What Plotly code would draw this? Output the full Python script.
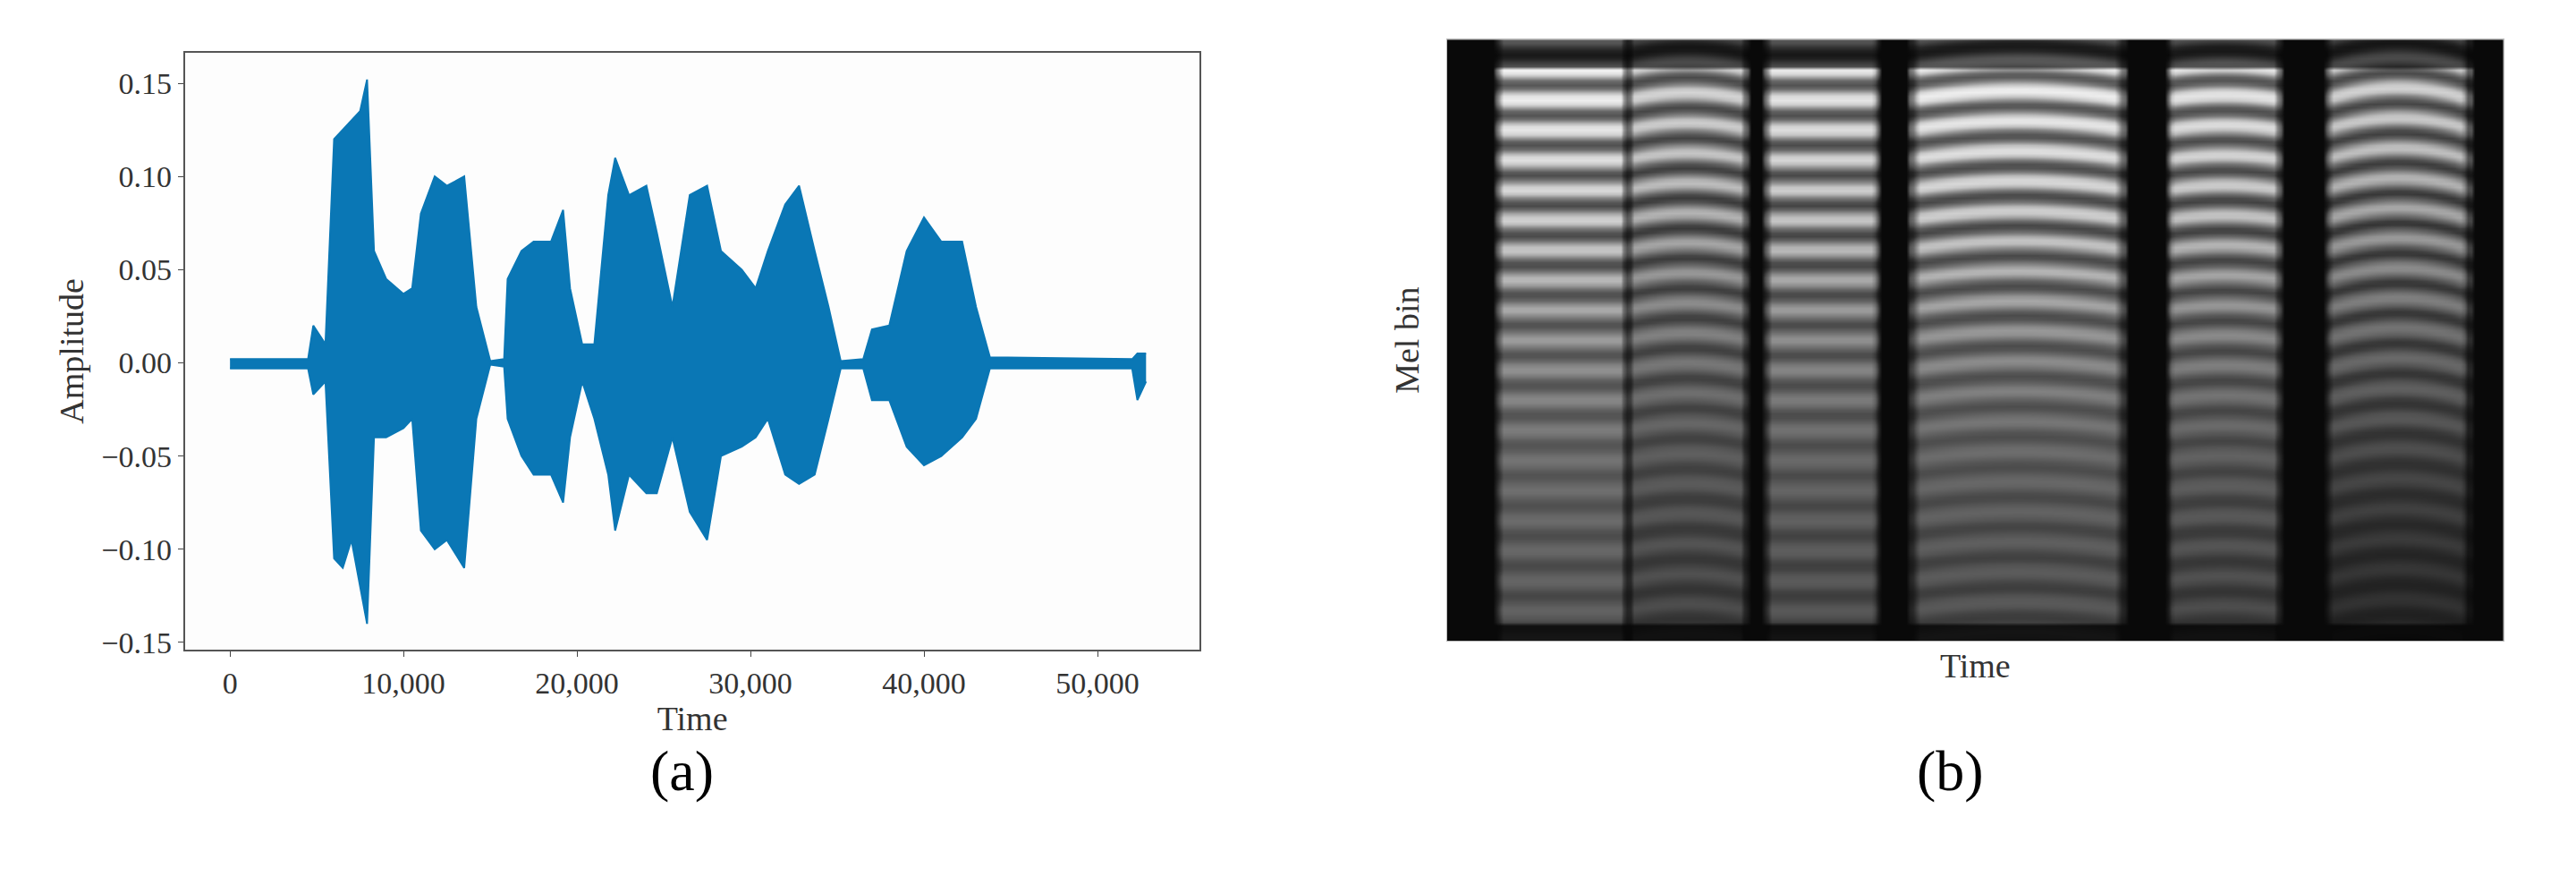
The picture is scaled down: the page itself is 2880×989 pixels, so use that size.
import numpy as np
import plotly.graph_objects as go

# ---- waveform envelope (a) ----
t = [0,4500,4800,5500,6000,6500,7000,7500,7900,8300,9000,10000,10500,11000,11800,12500,13500,14200,15000,15800,
     16000,16800,17500,18500,19200,19600,20300,21000,21800,22200,23000,24000,24600,25500,26500,27500,28300,29500,
     30300,31000,32000,32800,33700,34500,35200,36500,37000,38000,39000,40000,41000,42200,43000,43800,52000,52300,52800]
upper = [0.002,0.002,0.02,0.01,0.12,0.125,0.13,0.135,0.152,0.06,0.045,0.037,0.04,0.08,0.1,0.095,0.1,0.03,0.001,0.002,
         0.045,0.06,0.065,0.065,0.082,0.04,0.01,0.01,0.09,0.11,0.09,0.095,0.07,0.03,0.09,0.095,0.06,0.05,
         0.04,0.06,0.085,0.095,0.06,0.03,0.001,0.002,0.018,0.02,0.06,0.078,0.065,0.065,0.03,0.003,0.002,0.005,0.005]
lower = [-0.003,-0.003,-0.017,-0.01,-0.105,-0.11,-0.095,-0.12,-0.14,-0.04,-0.04,-0.035,-0.03,-0.09,-0.1,-0.095,-0.11,-0.03,-0.001,-0.002,
         -0.03,-0.05,-0.06,-0.06,-0.075,-0.04,-0.01,-0.03,-0.06,-0.09,-0.06,-0.07,-0.07,-0.04,-0.08,-0.095,-0.05,-0.045,
         -0.04,-0.03,-0.06,-0.065,-0.06,-0.03,-0.003,-0.003,-0.02,-0.02,-0.045,-0.055,-0.05,-0.04,-0.03,-0.003,-0.003,-0.02,-0.01]
y_ticks = [-0.15,-0.10,-0.05,0.00,0.05,0.10,0.15]
x_ticks = [0,10000,20000,30000,40000,50000]

# ---- mel spectrogram (b): voiced segments ----
seg_start = [0.045, 0.17, 0.30, 0.435, 0.68, 0.83]
seg_end   = [0.172, 0.285, 0.41, 0.645, 0.79, 0.97]
seg_level = [0.95, 0.8, 0.9, 0.95, 0.9, 0.8]
seg_low   = [0.4, 0.3, 0.35, 0.35, 0.3, 0.2]    # brightness at bottom
seg_bend  = [0.0, 0.012, 0.0, 0.015, 0.008, 0.02]  # harmonic curvature
n_harm = 20

W, H = 300, 160
xs = np.linspace(0, 1, W)
ys = np.linspace(0, 1, H)
Z = np.zeros((H, W)) + 0.03
for s, e, lv, lo, bd in zip(seg_start, seg_end, seg_level, seg_low, seg_bend):
    m = (xs >= s) & (xs <= e)
    u = (xs[m] - s) / (e - s)
    X, Y = np.meshgrid(u, ys)
    prof = lo + (lv - lo) * Y ** 1.5
    stripes = 0.5 + 0.5 * np.cos(2 * np.pi * n_harm * (Y + bd * (X - 0.5) ** 2 * 4 - bd))
    mix = 0.35 + 0.65 * np.clip((Y - 0.3) / 0.4, 0, 1)
    val = prof * (0.3 + 0.7 * (mix * stripes + (1 - mix) * 0.5))
    edge = np.clip(np.minimum(u, 1 - u) / 0.06, 0.4, 1)
    val = val * edge
    val[Y > 0.95] *= 0.3
    val[Y < 0.03] *= 0.25
    Z[:, m] = np.maximum(Z[:, m], val)

fig = go.Figure()
fig.add_trace(go.Scatter(x=t, y=lower, mode="lines", line=dict(color="#0a77b5", width=2),
                         showlegend=False, xaxis="x", yaxis="y"))
fig.add_trace(go.Scatter(x=t, y=upper, mode="lines", line=dict(color="#0a77b5", width=2),
                         fill="tonexty", fillcolor="#0a77b5", showlegend=False, xaxis="x", yaxis="y"))
fig.add_trace(go.Heatmap(z=Z, x=xs, y=ys, colorscale="Greys", reversescale=True, showscale=False,
                         zsmooth="best", zmin=0, zmax=1, xaxis="x2", yaxis="y2"))

font = "Liberation Serif"
fig.update_layout(
    width=2880, height=989, margin=dict(l=0, r=0, t=0, b=0),
    paper_bgcolor="white", plot_bgcolor="#fdfdfd",
    font=dict(family=font, color="#333", size=34),
    xaxis=dict(domain=[0.069, 0.463], range=[-2600, 55900], tickvals=x_ticks, tickformat=",d",
               showline=True, linecolor="#555", linewidth=2, mirror=True, ticks="outside", ticklen=6,
               showgrid=False, zeroline=False, title=dict(text="Time", font=dict(size=38), standoff=0)),
    yaxis=dict(domain=[0.266, 0.948], range=[-0.1538, 0.1664], tickvals=y_ticks, tickformat=".2f",
               showline=True, linecolor="#555", linewidth=2, mirror=True, ticks="outside", ticklen=6,
               showgrid=False, zeroline=False, title=dict(text="Amplitude", font=dict(size=38), standoff=8)),
    xaxis2=dict(domain=[0.559, 0.969], range=[0, 1], showticklabels=False, ticks="", showgrid=False,
                zeroline=False, showline=True, linecolor="#bbb", mirror=True, anchor="y2",
                title=dict(text="Time", font=dict(size=38), standoff=14)),
    yaxis2=dict(domain=[0.276, 0.963], range=[0, 1], showticklabels=False, ticks="", showgrid=False,
                zeroline=False, showline=True, linecolor="#bbb", mirror=True, anchor="x2",
                title=dict(text="Mel bin", font=dict(size=38), standoff=18)),
    annotations=[
        dict(text="(a)", x=0.249, y=0.127, xref="paper", yref="paper", yanchor="middle", showarrow=False,
             font=dict(size=64, color="#000")),
        dict(text="(b)", x=0.768, y=0.127, xref="paper", yref="paper", yanchor="middle", showarrow=False,
             font=dict(size=64, color="#000")),
    ],
)
fig.write_html("out.html")
